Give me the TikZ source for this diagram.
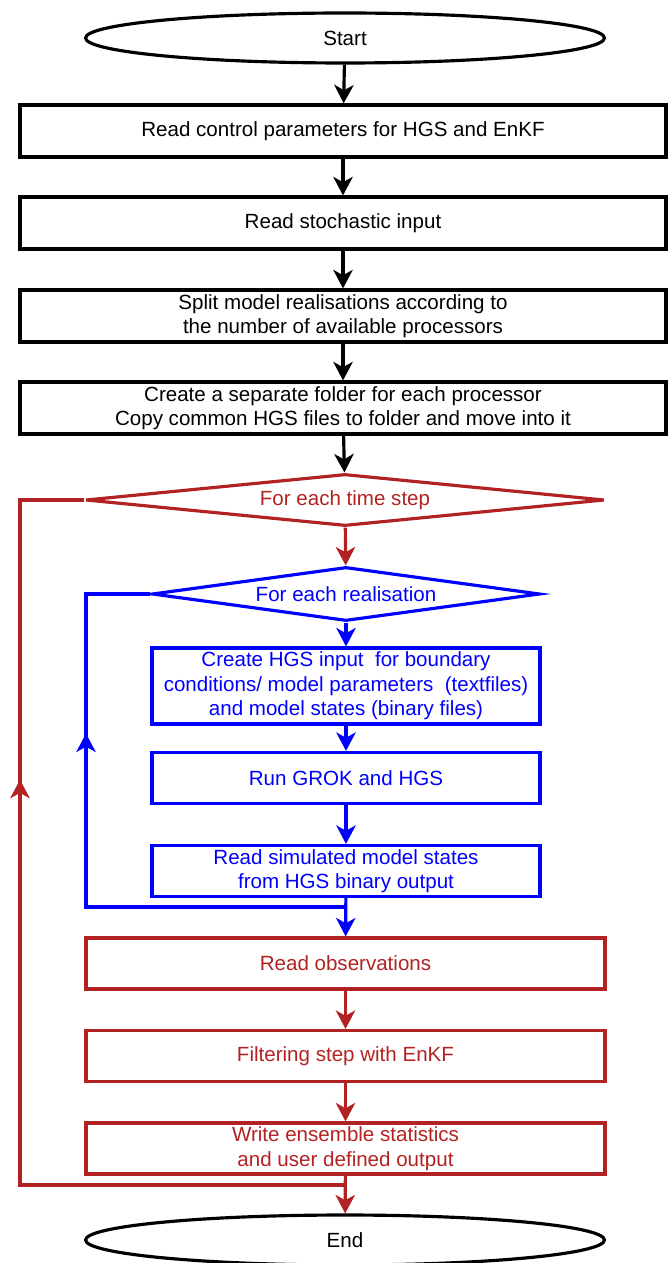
\documentclass[tikz,border=0pt]{standalone}
\usepackage{fontspec}
\setmainfont{Liberation Sans}
\usetikzlibrary{arrows.meta,shapes.geometric,decorations.markings}
\definecolor{loopRed}{HTML}{B22222}
\definecolor{loopBlue}{HTML}{0000FF}

\begin{document}
\begin{tikzpicture}[x=0.02cm, y=-0.02cm, line width=1.8pt,
    >={Stealth[length=10.5pt,width=11pt,inset=3pt]},
    every node/.style={font=\fontsize{11.7}{14}\selectfont, align=center, inner sep=0pt},
    term/.style={draw, ellipse, minimum width=10.38cm, minimum height=1cm},
    wide/.style={draw, rectangle, minimum width=12.92cm, minimum height=1.04cm},
    mid/.style={draw, rectangle, minimum width=10.38cm, minimum height=1.02cm},
    narrow/.style={draw, rectangle, minimum width=7.76cm, minimum height=1.02cm},
    loopbox/.style={draw, diamond, aspect=10},
    upmark/.style={postaction=decorate,
        decoration={markings, mark=at position 0.68 with {\arrow{>}}}}]
    \useasboundingbox (0,0) rectangle (667,1263);

    % ---------- set-up ----------
    \node[term] (start) at (345,38) {Start};
    \node[wide] (ctrl) at (343,131) {Read control parameters for HGS and EnKF};
    \node[wide] (stoch) at (343,223) {Read stochastic input};
    \node[wide] (split) at (343,316) {Split model realisations according to\\ the number of available processors};
    \node[wide] (folder) at (343,408) {Create a separate folder for each processor\\Copy common HGS files to folder and move into it};

    % ---------- time loop ----------
    \node[loopbox, color=loopRed, minimum width=10.38cm, minimum height=1.04cm] (timeloop) at (345,500) {For each time step};

    % ---------- realisation loop ----------
    \node[loopbox, color=loopBlue, minimum width=7.76cm, minimum height=1.08cm] (realloop) at (346,594) {For each realisation};
    \node[narrow, color=loopBlue, minimum height=1.52cm] (hgsin) at (346,686) {Create HGS input\ \ for boundary\\conditions/ model parameters\ \ (textfiles)\\and model states (binary files)};
    \node[narrow, color=loopBlue] (grok) at (346,778) {Run GROK and HGS};
    \node[narrow, color=loopBlue] (simout) at (346,871) {Read simulated model states\\ from HGS binary output};

    \node[mid, color=loopRed] (obs) at (345.5,963.5) {Read observations};
    \node[mid, color=loopRed] (filter) at (345.5,1056) {Filtering step with EnKF};
    \node[mid, color=loopRed] (stats) at (345.5,1148.5) {Write ensemble statistics\\ and user defined output};

    \node[term] (end) at (345,1240) {End};

    % ---------- connectors ----------
    \draw[->] (start) -- (ctrl);
    \draw[->] (ctrl) -- (stoch);
    \draw[->] (stoch) -- (split);
    \draw[->] (split) -- (folder);
    \draw[->] (folder) -- (timeloop);
    \draw[->, loopRed] (timeloop) -- (realloop);
    \draw[->, loopBlue] (realloop) -- (hgsin);
    \draw[->, loopBlue] (hgsin) -- (grok);
    \draw[->, loopBlue] (grok) -- (simout);
    \draw[->, loopBlue] (simout) -- (obs);
    \draw[->, loopRed] (obs) -- (filter);
    \draw[->, loopRed] (filter) -- (stats);
    \draw[->, loopRed] (stats) -- (end);

    % ---------- loop backs ----------
    \coordinate (bjoin) at (346,907);
    \coordinate (rjoin) at (345,1185);
    \draw[loopBlue, upmark] (bjoin) -- (86,907) -- (86,594) -- (realloop.west);
    \draw[loopRed, upmark] (rjoin) -- (20,1185) -- (20,500) -- (timeloop.west);
\end{tikzpicture}
\end{document}
